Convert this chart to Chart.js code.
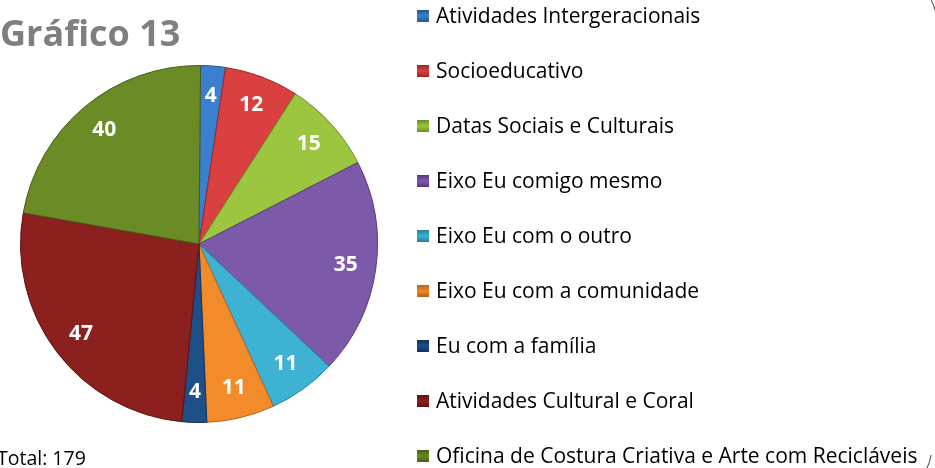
<!DOCTYPE html>
<html>
<head>
<meta charset="utf-8">
<script src="https://cdn.jsdelivr.net/npm/chart.js@4/dist/chart.umd.min.js"></script>
<style>
  html, body { margin: 0; padding: 0; background: #fff; }
  #wrap { width: 935px; height: 468px; position: relative; }
</style>
</head>
<body>
<div id="wrap"><canvas id="chart" width="935" height="468"></canvas></div>
<script>
// Data
const categories = [
    'Atividades Intergeracionais',
    'Socioeducativo',
    'Datas Sociais e Culturais',
    'Eixo Eu comigo mesmo',
    'Eixo Eu com o outro',
    'Eixo Eu com a comunidade',
    'Eu com a família',
    'Atividades Cultural e Coral',
    'Oficina de Costura Criativa e Arte com Recicláveis'
];
const values = [4, 12, 15, 35, 11, 11, 4, 47, 40];
const sliceColors = ['#3b7fd1', '#d9403f', '#9cc540', '#7d5aa9', '#3db2d3', '#f28b2a', '#1f4f88', '#8c201f', '#6a8b26'];
const edgeColors = ['#24589a', '#9c2725', '#6c8c26', '#553a7a', '#247f9a', '#b5621a', '#10305a', '#5c1312', '#465d17'];
const chartTitle = 'Gráfico 13';
const totalText = 'Total: ' + values.reduce((a, b) => a + b, 0);

const FONT = '"Open Sans", sans-serif';

// Radial shading so slices look a bit like the bevelled original
function sliceFill(ctx) {
    const chart = ctx.chart;
    const arc = chart.getDatasetMeta(0).data[ctx.dataIndex];
    if (!arc || !arc.outerRadius) return sliceColors[ctx.dataIndex];
    const g = chart.ctx.createRadialGradient(arc.x, arc.y, 0, arc.x, arc.y, arc.outerRadius);
    g.addColorStop(0, sliceColors[ctx.dataIndex]);
    g.addColorStop(0.88, sliceColors[ctx.dataIndex]);
    g.addColorStop(1, edgeColors[ctx.dataIndex]);
    return g;
}

// Title, legend, value labels and total
const extras = {
    id: 'extras',
    afterDraw(chart) {
        const ctx = chart.ctx;
        const meta = chart.getDatasetMeta(0);
        ctx.save();

        // value labels inside the slices
        ctx.font = 'bold 21px ' + FONT;
        ctx.fillStyle = '#ffffff';
        ctx.textAlign = 'center';
        ctx.textBaseline = 'middle';
        meta.data.forEach((arc, i) => {
            const mid = (arc.startAngle + arc.endAngle) / 2;
            const r = arc.outerRadius * 0.83;
            ctx.fillText(String(values[i]), arc.x + Math.cos(mid) * r, arc.y + Math.sin(mid) * r);
        });

        // title
        ctx.textAlign = 'left';
        ctx.textBaseline = 'alphabetic';
        ctx.font = 'bold 36px ' + FONT;
        ctx.fillStyle = '#7f7f7f';
        ctx.fillText(chartTitle, 0, 46);

        // total
        ctx.font = '19.5px ' + FONT;
        ctx.fillStyle = '#000000';
        ctx.fillText(totalText, -3, 465);

        // legend
        ctx.textBaseline = 'middle';
        ctx.font = '21px ' + FONT;
        categories.forEach((label, i) => {
            const y = 16 + i * 55;
            const bx = 417, by = y - 6, s = 12;
            const g = ctx.createLinearGradient(bx, by, bx, by + s);
            g.addColorStop(0, edgeColors[i]);
            g.addColorStop(0.5, sliceColors[i]);
            g.addColorStop(1, edgeColors[i]);
            ctx.fillStyle = g;
            ctx.fillRect(bx, by, s, s);
            ctx.fillStyle = '#000000';
            ctx.fillText(label, 436, y + 1.5);
        });

        // piece of the outer frame visible at the right edge
        ctx.strokeStyle = '#404040';
        ctx.lineWidth = 1;
        ctx.beginPath();
        ctx.moveTo(931, 0);
        ctx.quadraticCurveTo(934, 5, 935, 10);
        ctx.stroke();
        ctx.beginPath();
        ctx.moveTo(927, 468);
        ctx.quadraticCurveTo(930, 462, 931, 455);
        ctx.stroke();

        ctx.restore();
    }
};

new Chart(document.getElementById('chart'), {
    type: 'pie',
    data: {
        labels: categories,
        datasets: [{
            data: values,
            backgroundColor: sliceFill,
            borderColor: edgeColors,
            borderWidth: 1
        }]
    },
    options: {
        responsive: false,
        animation: false,
        rotation: 0.5,
        layout: { padding: { left: 20, top: 65, right: 557, bottom: 45 } },
        plugins: {
            legend: { display: false },
            tooltip: { enabled: false }
        }
    },
    plugins: [extras]
});
</script>
</body>
</html>
